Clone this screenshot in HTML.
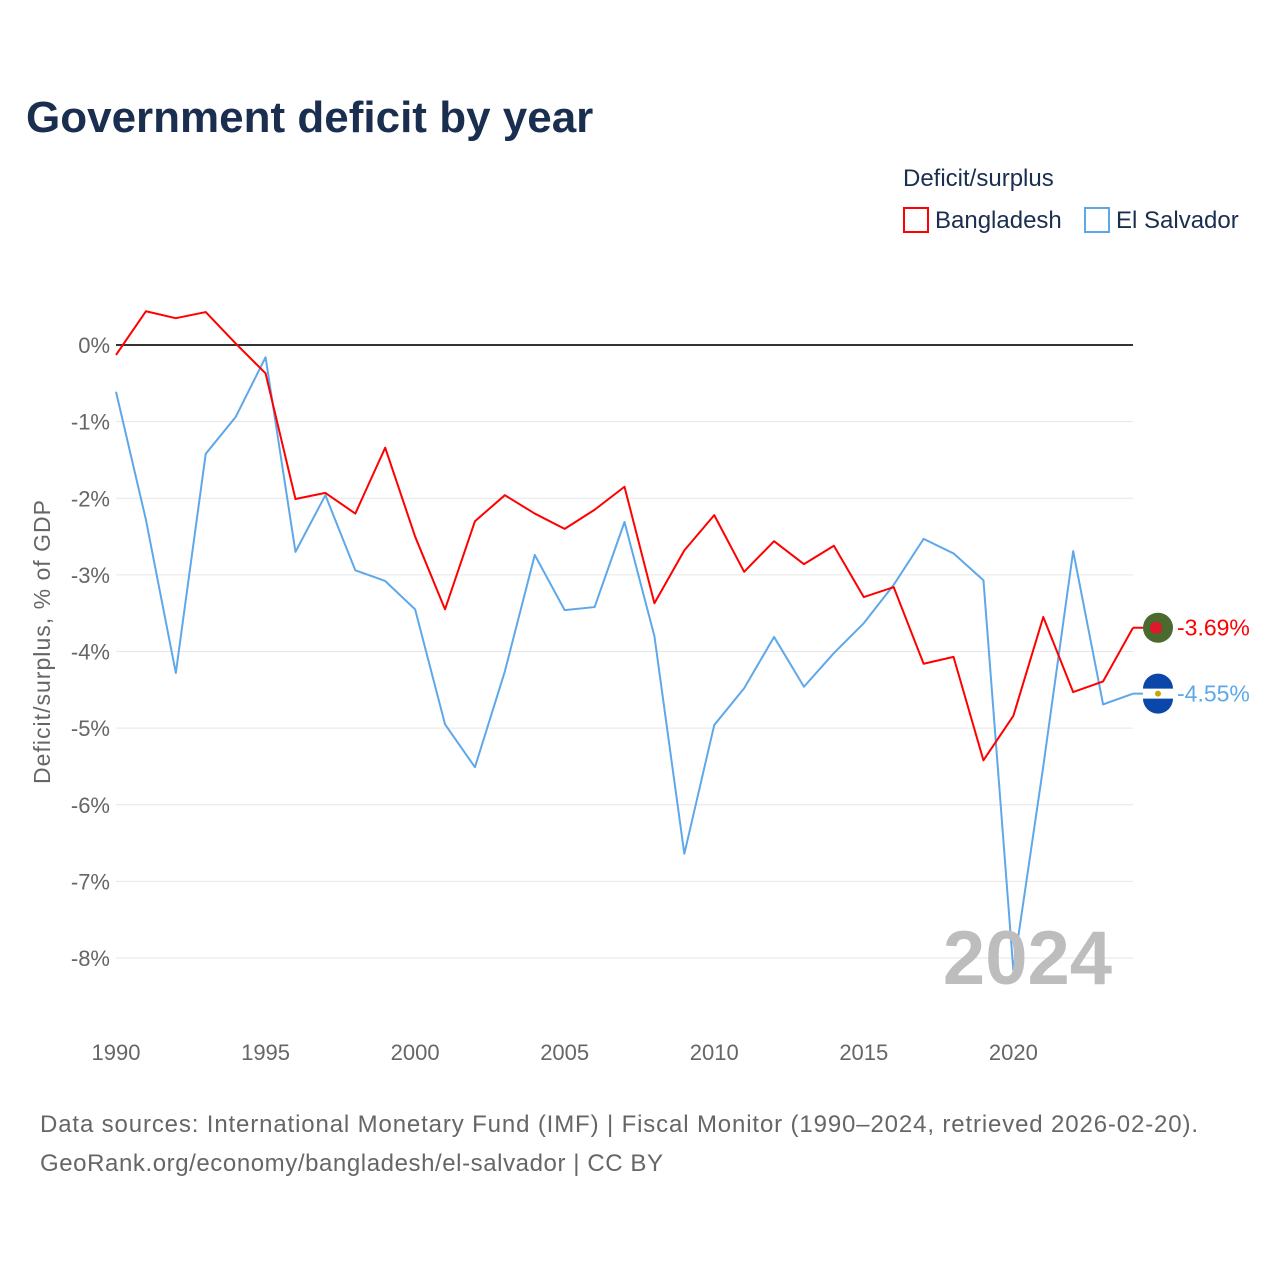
<!DOCTYPE html>
<html><head><meta charset="utf-8"><style>
body{margin:0;background:#fff;font-family:"Liberation Sans",sans-serif;}
svg text{font-family:"Liberation Sans",sans-serif;}
</style></head><body>
<svg id="chart" width="1280" height="1280" viewBox="0 0 1280 1280" xmlns="http://www.w3.org/2000/svg">
<text x="26" y="132" font-size="44" font-weight="bold" fill="#1a2e4f">Government deficit by year</text>
<text x="903" y="186" font-size="24" fill="#1a2e4f">Deficit/surplus</text>
<g><rect x="904" y="208" width="24" height="24" fill="none" stroke="#ff0000" stroke-width="2"/><text x="935" y="228" font-size="24" fill="#1a2e4f">Bangladesh</text></g>
<g><rect x="1085" y="208" width="24" height="24" fill="none" stroke="#5ea8ea" stroke-width="2"/><text x="1116" y="228" font-size="24" fill="#1a2e4f">El Salvador</text></g>
<text transform="translate(50,642) rotate(-90)" text-anchor="middle" font-size="23" fill="#666" textLength="284">Deficit/surplus, % of GDP</text>
<g id="grid"></g><g id="series"></g>
<text x="1112" y="984" text-anchor="end" font-size="76" font-weight="bold" fill="#bdbdbd">2024</text>
<text x="40" y="1132" font-size="24" fill="#666" textLength="1158">Data sources: International Monetary Fund (IMF) | Fiscal Monitor (1990–2024, retrieved 2026-02-20).</text>
<text x="40" y="1171" font-size="24" fill="#666" textLength="623">GeoRank.org/economy/bangladesh/el-salvador | CC BY</text>
</svg>
<script>
const years=[];for(let y=1990;y<=2024;y++)years.push(y);
const bangladesh=[-0.13,0.44,0.35,0.43,0.02,-0.37,-2.01,-1.93,-2.2,-1.34,-2.5,-3.45,-2.3,-1.96,-2.2,-2.4,-2.15,-1.85,-3.37,-2.68,-2.22,-2.96,-2.56,-2.86,-2.62,-3.29,-3.16,-4.16,-4.07,-5.42,-4.84,-3.55,-4.53,-4.39,-3.69];
const elSalvador=[-0.61,-2.28,-4.28,-1.42,-0.94,-0.16,-2.7,-1.96,-2.94,-3.08,-3.45,-4.95,-5.51,-4.26,-2.74,-3.46,-3.42,-2.31,-3.8,-6.64,-4.96,-4.48,-3.81,-4.46,-4.02,-3.63,-3.13,-2.53,-2.72,-3.07,-8.16,-5.5,-2.69,-4.69,-4.55];
const yTicks=[0,-1,-2,-3,-4,-5,-6,-7,-8];
const xTicks=[1990,1995,2000,2005,2010,2015,2020];
const NS="http://www.w3.org/2000/svg";
const xs=y=>116+(y-1990)*(1133-116)/34;
const ys=v=>345-v*(958-345)/8;
function mk(t,a,p){const e=document.createElementNS(NS,t);for(const k in a)e.setAttribute(k,a[k]);p.appendChild(e);return e;}
const grid=document.getElementById('grid'),ser=document.getElementById('series');
yTicks.forEach(v=>{
 const l=mk('line',{x1:116,x2:1133,y1:ys(v),y2:ys(v),stroke:v===0?'#333':'#e6e6e6','stroke-width':v===0?2:1},grid);
 
 
 const t=mk('text',{x:110,y:ys(v)+8,'text-anchor':'end','font-size':22,fill:'#666'},grid);t.textContent=v+'%';
 
 
});
xTicks.forEach(y=>{const t=mk('text',{x:xs(y),y:1060,'text-anchor':'middle','font-size':22,fill:'#666'},grid);t.textContent=y;
 
 });
function line(data,color,name){
 const p=mk('polyline',{points:data.map((v,i)=>xs(years[i])+','+ys(v)).join(' '),fill:'none',stroke:color,'stroke-width':2,'stroke-linejoin':'round'},ser);
 
 
}
line(elSalvador,'#5ea8ea','el-salvador-line');
line(bangladesh,'#ff0000','bangladesh-line');
function endLabel(v,color,name,flag){
 const y=ys(v),x=xs(2024);
 mk('line',{x1:x,x2:x+12,y1:y,y2:y,stroke:color,'stroke-width':2},ser);
 const g=mk('g',{},ser);
 
 
 if(flag==='bd'){mk('circle',{cx:1158,cy:y,r:15,fill:'#4a6a2e'},g);mk('circle',{cx:1156,cy:y,r:6,fill:'#e0182d'},g);}
 else{mk('circle',{cx:1158,cy:y,r:15,fill:'#fff'},g);mk('path',{d:`M1143 ${y-5} A15 15 0 0 1 1173 ${y-5} Z`,fill:'#0a47a9'},g);mk('path',{d:`M1143 ${y+5} A15 15 0 0 0 1173 ${y+5} Z`,fill:'#0a47a9'},g);mk('circle',{cx:1158,cy:y,r:3,fill:'#c8a800'},g);}
 const t=mk('text',{x:1177,y:y+8,'font-size':23,fill:color},ser);t.textContent=v.toFixed(2)+'%';
 
 
}
endLabel(bangladesh[bangladesh.length-1],'#ff0000','bangladesh','bd');
endLabel(elSalvador[elSalvador.length-1],'#5ea8ea','el-salvador','sv');
</script>
</body></html>
